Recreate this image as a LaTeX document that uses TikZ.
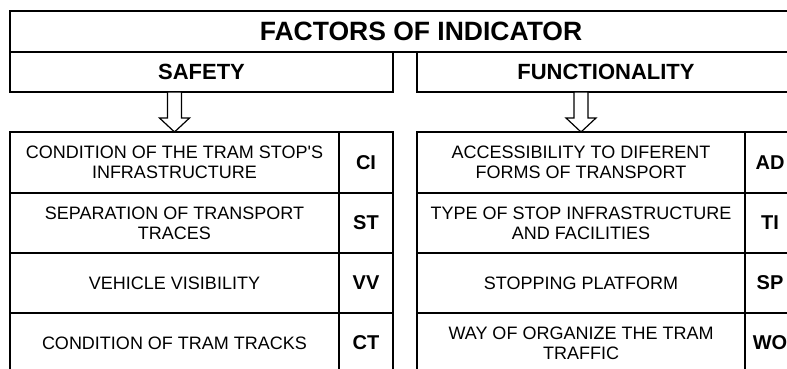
\documentclass[tikz,border=0pt]{standalone}
\usepackage{fontspec}
\setmainfont{Liberation Sans}
\usetikzlibrary{positioning}

\tikzset{
  cell/.style={draw, black, line width=1.2pt, inner sep=1pt, outer sep=0pt, align=center,
    anchor=north west, font=\fontsize{18}{20}\selectfont},
  codecell/.style={cell, font=\fontsize{20}{22}\selectfont\bfseries},
  headbox/.style={cell, minimum height=40, font=\fontsize{22}{24}\selectfont\bfseries},
  hollowarrow/.style={draw, black, line width=1.2pt, fill=white, line join=miter},
}

\begin{document}
\begin{tikzpicture}[x=1pt, y=-1pt]
            % Frame
            \useasboundingbox (0,0) rectangle (787,369);
            \clip (0,0) rectangle (787,369);
            % Headings
            \node[cell, minimum width=822, minimum height=41,
                font=\fontsize{26.5}{28}\selectfont\bfseries] (title) at (10,11) {FACTORS OF INDICATOR};
            \node[headbox, minimum width=383] (safety) at (10,52) {SAFETY};
            \node[headbox, minimum width=378] (func) at (417,52) {FUNCTIONALITY};
            % Safety table
            \node[cell, minimum width=329, minimum height=61] (s1) at (10,132)
                {CONDITION OF THE TRAM STOP\textquotesingle S\\INFRASTRUCTURE};
            \node[codecell, minimum width=54, minimum height=61, right=0pt of s1] (ci) {CI};
            \node[cell, minimum width=329, minimum height=60, below=0pt of s1] (s2)
                {SEPARATION OF TRANSPORT\\TRACES};
            \node[codecell, minimum width=54, minimum height=60, right=0pt of s2] (st) {ST};
            \node[cell, minimum width=329, minimum height=60, below=0pt of s2] (s3)
                {VEHICLE VISIBILITY};
            \node[codecell, minimum width=54, minimum height=60, right=0pt of s3] (vv) {VV};
            \node[cell, minimum width=329, minimum height=60, below=0pt of s3] (s4)
                {CONDITION OF TRAM TRACKS};
            \node[codecell, minimum width=54, minimum height=60, right=0pt of s4] (ct) {CT};
            % Functionality table
            \node[cell, minimum width=328, minimum height=61] (f1) at (417,132)
                {ACCESSIBILITY TO DIFERENT\\FORMS OF TRANSPORT};
            \node[codecell, minimum width=50, minimum height=61, right=0pt of f1] (ad) {AD};
            \node[cell, minimum width=328, minimum height=60, below=0pt of f1] (f2)
                {TYPE OF STOP INFRASTRUCTURE\\AND FACILITIES};
            \node[codecell, minimum width=50, minimum height=60, right=0pt of f2] (ti) {TI};
            \node[cell, minimum width=328, minimum height=60, below=0pt of f2] (f3)
                {STOPPING PLATFORM};
            \node[codecell, minimum width=50, minimum height=60, right=0pt of f3] (sp) {SP};
            \node[cell, minimum width=328, minimum height=60, below=0pt of f3] (f4)
                {WAY OF ORGANIZE THE TRAM\\TRAFFIC};
            \node[codecell, minimum width=50, minimum height=60, right=0pt of f4] (wo) {WO};
            % Arrows
            \draw[hollowarrow] (s1.north) -- ++(-15,-14) -- ++(8,0) -- ++(0,-26)
                -- ++(14,0) -- ++(0,26) -- ++(8,0) -- cycle;
            \draw[hollowarrow] (f1.north) -- ++(-15,-14) -- ++(8,0) -- ++(0,-26)
                -- ++(14,0) -- ++(0,26) -- ++(8,0) -- cycle;
\end{tikzpicture}
\end{document}
